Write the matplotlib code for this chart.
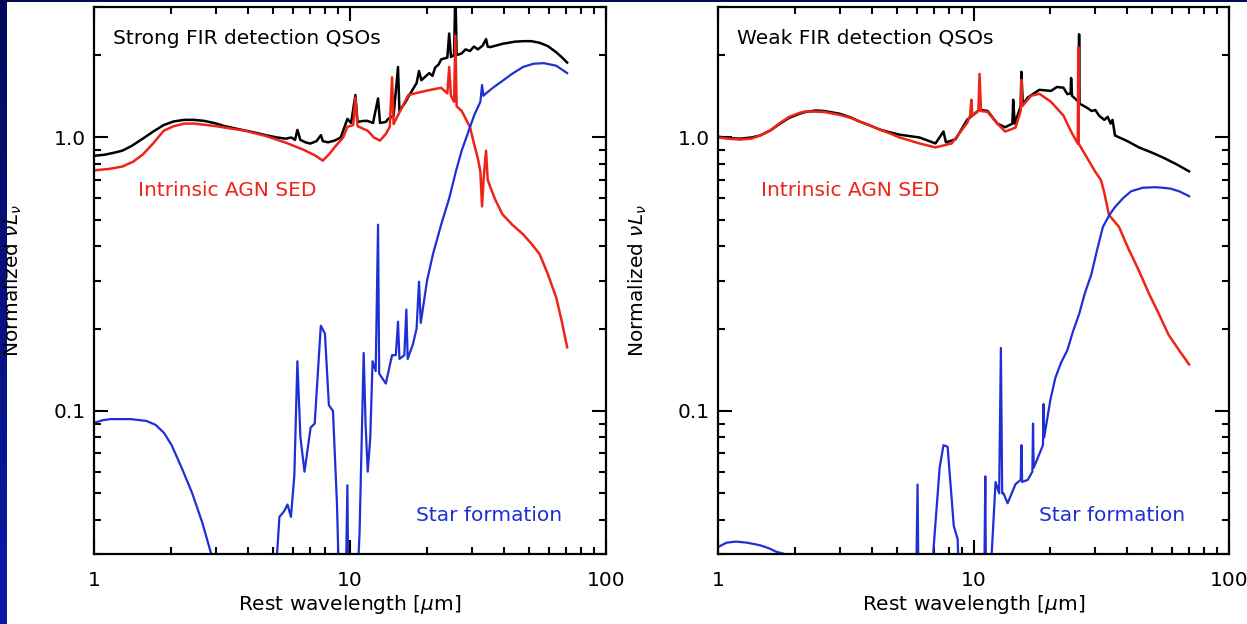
import numpy as np
import matplotlib
matplotlib.use("Agg")
import matplotlib.pyplot as plt
from matplotlib.ticker import FixedLocator, NullFormatter, FixedFormatter

# ---- left panel: strong FIR detection QSOs ----
strong_total_wl = [1.0, 1.1, 1.2, 1.29, 1.4, 1.55, 1.7, 1.87, 2.05, 2.25, 2.45, 2.70, 3.0, 3.24, 3.55,
                   3.90, 4.3, 4.68, 5.2, 5.6, 5.9, 6.1, 6.23, 6.4, 6.7, 7.0, 7.4, 7.7, 7.83, 8.2, 8.7,
                   9.2, 9.77, 10.1, 10.5, 10.7, 11.3, 11.7, 12.3, 12.87, 13.1, 13.8, 14.1, 14.8, 15.4,
                   15.6, 16.5, 16.9, 17.6, 18.2, 18.6, 19.0, 20.4, 21.0, 21.5, 22.2, 22.7, 24.0, 24.4,
                   24.8, 25.5, 25.8, 26.1, 27.3, 28.3, 29.4, 30.5, 31.6, 33.0, 34.0, 34.5, 35.3, 39.4,
                   44.0, 47.4, 51.1, 55.0, 59.2, 63.9, 67.0, 70.5]
strong_total = [0.857, 0.865, 0.88, 0.895, 0.93, 0.99, 1.05, 1.11, 1.145, 1.16, 1.16, 1.15, 1.125, 1.10,
                1.08, 1.06, 1.04, 1.02, 1.0, 0.99, 1.0, 0.98, 1.066, 0.98, 0.96, 0.95, 0.97, 1.02, 0.97,
                0.96, 0.974, 1.0, 1.17, 1.13, 1.43, 1.14, 1.15, 1.15, 1.13, 1.39, 1.13, 1.14, 1.17, 1.2,
                1.81, 1.25, 1.35, 1.41, 1.5, 1.58, 1.75, 1.62, 1.72, 1.68, 1.8, 1.85, 1.93, 1.96, 2.40,
                1.97, 2.0, 3.5, 2.0, 2.03, 2.1, 2.07, 2.15, 2.1, 2.17, 2.29, 2.15, 2.14, 2.2,
                2.24, 2.25, 2.25, 2.22, 2.16, 2.05, 1.97, 1.88]

strong_agn_wl = [1.0, 1.15, 1.29, 1.42, 1.55, 1.7, 1.87, 2.05, 2.25, 2.45, 2.70, 3.0, 3.24, 3.90, 4.68,
                 5.62, 6.6, 7.3, 7.83, 8.3, 8.75, 9.4, 9.77, 10.3, 10.5, 10.7, 11.73, 12.4, 13.1, 13.8,
                 14.3, 14.6, 14.8, 15.7, 16.9, 18.5, 20.4, 22.7, 24.0, 24.4, 24.8, 25.5, 25.8, 26.1,
                 27.3, 29.4, 30.5, 31.6, 32.3, 32.8, 33.3, 34.0, 34.5, 35.3, 37.0, 39.4, 43.0, 47.4,
                 51.0, 55.0, 59.0, 63.9, 67.0, 70.5]
strong_agn = [0.758, 0.768, 0.783, 0.815, 0.866, 0.95, 1.058, 1.10, 1.124, 1.125, 1.113, 1.10, 1.087,
              1.058, 1.013, 0.957, 0.901, 0.86, 0.823, 0.87, 0.926, 1.0, 1.094, 1.11, 1.40, 1.1, 1.058,
              1.0, 0.974, 1.03, 1.094, 1.66, 1.12, 1.25, 1.43, 1.46, 1.49, 1.52, 1.45, 1.81, 1.42,
              1.35, 2.36, 1.3, 1.25, 1.094, 0.95, 0.837, 0.75, 0.56, 0.72, 0.895, 0.7, 0.66, 0.59,
              0.524, 0.48, 0.443, 0.41, 0.375, 0.32, 0.26, 0.215, 0.171]

strong_sf_wl = [1.0, 1.08, 1.16, 1.39, 1.6, 1.74, 1.88, 2.01, 2.2, 2.42, 2.65, 2.87, 2.95, 5.1, 5.19,
                5.3, 5.53, 5.7, 5.88, 6.06, 6.23, 6.40, 6.64, 7.02, 7.28, 7.69, 7.98, 8.27, 8.58, 8.9,
                9.1, 9.6, 9.77, 9.85, 10.6, 10.9, 11.31, 11.5, 11.73, 12.0, 12.25, 12.6, 12.87, 13.0,
                13.8, 14.6, 15.1, 15.4, 15.6, 16.3, 16.6, 16.8, 17.6, 18.2, 18.6, 18.9, 20.0, 21.1,
                22.7, 24.4, 26.0, 27.3, 29.0, 30.6, 32.3, 32.8, 33.2, 34.0, 36.5, 39.4, 43.0, 47.4,
                52.0, 57.1, 63.9, 70.5]
strong_sf = [0.0905, 0.0925, 0.0934, 0.0934, 0.092, 0.089, 0.083, 0.075, 0.062, 0.050, 0.039, 0.030,
             0.02, 0.02, 0.03, 0.041, 0.043, 0.0455, 0.041, 0.058, 0.152, 0.0805, 0.06, 0.087, 0.09,
             0.205, 0.192, 0.105, 0.10, 0.045, 0.02, 0.02, 0.0535, 0.02, 0.02, 0.036, 0.163, 0.09,
             0.06, 0.08, 0.152, 0.14, 0.48, 0.137, 0.126, 0.16, 0.16, 0.212, 0.155, 0.16, 0.235,
             0.155, 0.175, 0.2, 0.297, 0.21, 0.30, 0.375, 0.48, 0.599, 0.76, 0.895, 1.05, 1.21, 1.35,
             1.555, 1.42, 1.45, 1.53, 1.61, 1.71, 1.81, 1.86, 1.87, 1.83, 1.72]

# ---- right panel: weak FIR detection QSOs ----
weak_total_wl = [1.0, 1.1, 1.22, 1.35, 1.46, 1.6, 1.75, 1.9, 2.09, 2.2, 2.41, 2.6, 2.99, 3.3, 3.59,
                 3.9, 4.30, 4.7, 5.14, 6.15, 7.10, 7.63, 7.8, 8.51, 9.45, 10.56, 11.36, 12.4, 13.3,
                 14.2, 14.3, 14.5, 15.3, 15.4, 15.6, 16.3, 18.1, 20.1, 21.2, 22.5, 23.3, 24.0, 24.1,
                 24.3, 25.8, 25.9, 26.0, 27.8, 29.0, 30.0, 31.0, 32.5, 33.5, 34.4, 35.0, 35.8, 40.0,
                 44.4, 50.0, 55.0, 62.0, 69.8]
weak_total = [1.007, 0.995, 0.99, 1.0, 1.017, 1.06, 1.124, 1.18, 1.222, 1.24, 1.255, 1.25, 1.222,
              1.185, 1.143, 1.11, 1.069, 1.045, 1.024, 1.0, 0.951, 1.052, 0.96, 0.985, 1.162, 1.264,
              1.25, 1.124, 1.09, 1.124, 1.374, 1.124, 1.3, 1.738, 1.32, 1.4, 1.494, 1.48, 1.53, 1.52,
              1.44, 1.45, 1.65, 1.42, 1.35, 2.385, 1.33, 1.285, 1.25, 1.26, 1.202, 1.16, 1.19, 1.124,
              1.16, 1.017, 0.97, 0.92, 0.88, 0.846, 0.80, 0.752]

weak_agn_wl = [1.0, 1.1, 1.22, 1.35, 1.46, 1.6, 1.75, 1.9, 2.09, 2.2, 2.41, 2.6, 2.99, 3.3, 3.59, 3.9,
               4.30, 4.7, 5.14, 6.15, 7.10, 8.21, 9.45, 9.7, 9.81, 9.9, 10.45, 10.56, 10.7, 11.36,
               12.4, 13.3, 14.6, 15.3, 15.4, 15.5, 16.8, 18.1, 20.1, 22.5, 24.1, 25.6, 25.7, 25.8,
               26.9, 29.9, 31.5, 32.1, 32.6, 33.9, 37.1, 40.5, 44.4, 48.5, 53.2, 58.0, 63.7, 69.8]
weak_agn = [1.0, 0.99, 0.983, 0.99, 1.017, 1.06, 1.131, 1.19, 1.231, 1.245, 1.243, 1.24, 1.21, 1.18,
            1.143, 1.11, 1.069, 1.035, 1.0, 0.951, 0.92, 0.951, 1.131, 1.2, 1.374, 1.2, 1.25, 1.708,
            1.25, 1.24, 1.124, 1.051, 1.087, 1.25, 1.625, 1.3, 1.421, 1.445, 1.351, 1.202, 1.051,
            0.95, 2.137, 0.95, 0.889, 0.752, 0.70, 0.658, 0.62, 0.521, 0.471, 0.39, 0.326, 0.27,
            0.226, 0.19, 0.167, 0.148]

weak_sf_wl = [1.0, 1.08, 1.176, 1.3, 1.459, 1.58, 1.685, 1.823, 1.85, 5.95, 6.04, 6.1, 6.9, 6.97,
              7.37, 7.63, 7.92, 8.37, 8.67, 8.83, 11.0, 11.12, 11.2, 11.78, 12.2, 12.6, 12.8, 12.95,
              13.1, 13.6, 14.6, 15.3, 15.4, 15.5, 16.3, 17.0, 17.1, 17.2, 18.7, 18.8, 18.9, 20.0,
              20.9, 22.0, 23.3, 24.5, 25.9, 27.3, 28.9, 30.5, 32.1, 34.0, 35.8, 38.5, 41.4, 46.0,
              51.4, 55.0, 59.2, 64.0, 69.8]
weak_sf = [0.0318, 0.033, 0.0333, 0.033, 0.0323, 0.0315, 0.0306, 0.030, 0.02, 0.02, 0.0538, 0.02,
           0.02, 0.031, 0.062, 0.075, 0.074, 0.038, 0.034, 0.02, 0.02, 0.0577, 0.02, 0.03, 0.055,
           0.05, 0.17, 0.05, 0.05, 0.046, 0.054, 0.056, 0.075, 0.055, 0.056, 0.06, 0.090, 0.062,
           0.075, 0.106, 0.08, 0.11, 0.132, 0.15, 0.167, 0.195, 0.226, 0.27, 0.315, 0.39, 0.471,
           0.52, 0.557, 0.60, 0.636, 0.655, 0.658, 0.655, 0.65, 0.635, 0.61]

RED = "#ee2418"
BLUE = "#1f2fd6"
FS = 14.5

plt.rcParams.update({
    "font.family": "DejaVu Sans",
    "font.size": FS,
    "axes.linewidth": 1.6,
})

fig = plt.figure(figsize=(12.47, 6.24), dpi=100)
fig.patch.set_facecolor("white")

# navy frame pieces of the slide
strip = fig.add_axes([0, 0, 7 / 1247, 1])
grad = np.linspace(0, 1, 256).reshape(-1, 1)
strip.imshow(grad, aspect="auto", cmap=matplotlib.colors.LinearSegmentedColormap.from_list(
    "slide", ["#0a1aa8", "#020a5a"]), origin="lower", extent=[0, 1, 0, 1])
strip.axis("off")
top = fig.add_axes([0, 1 - 2 / 624, 1, 2 / 624])
top.set_facecolor("#020a5a")
top.set_xticks([])
top.set_yticks([])
for s in top.spines.values():
    s.set_visible(False)

ax1 = fig.add_axes([94 / 1247, 70 / 624, 512 / 1247, 547 / 624])
ax2 = fig.add_axes([718 / 1247, 70 / 624, 511 / 1247, 547 / 624])

panels = [
    (ax1, "Strong FIR detection QSOs", strong_total_wl, strong_total, strong_agn_wl, strong_agn,
     strong_sf_wl, strong_sf),
    (ax2, "Weak FIR detection QSOs", weak_total_wl, weak_total, weak_agn_wl, weak_agn,
     weak_sf_wl, weak_sf),
]

for ax, title, twl, tot, awl, agn, swl, sf in panels:
    ax.plot(twl, tot, color="black", lw=1.8)
    ax.plot(awl, agn, color=RED, lw=1.8)
    ax.plot(swl, sf, color=BLUE, lw=1.6)

    ax.set_xscale("log")
    ax.set_yscale("log")
    ax.set_xlim(1, 100)
    ax.set_ylim(0.03, 3)

    ax.xaxis.set_major_locator(FixedLocator([1, 10, 100]))
    ax.xaxis.set_major_formatter(FixedFormatter(["1", "10", "100"]))
    ax.xaxis.set_minor_locator(FixedLocator([2, 3, 4, 5, 6, 7, 8, 9, 20, 30, 40, 50, 60, 70, 80, 90]))
    ax.xaxis.set_minor_formatter(NullFormatter())
    ax.yaxis.set_major_locator(FixedLocator([0.1, 1.0]))
    ax.yaxis.set_major_formatter(FixedFormatter(["0.1", "1.0"]))
    ax.yaxis.set_minor_locator(FixedLocator([0.03, 0.04, 0.05, 0.06, 0.07, 0.08, 0.09,
                                             0.2, 0.3, 0.4, 0.5, 0.6, 0.7, 0.8, 0.9, 2, 3]))
    ax.yaxis.set_minor_formatter(NullFormatter())
    ax.tick_params(which="both", direction="in", top=True, right=True, width=1.5, labelsize=FS)
    ax.tick_params(which="major", length=10)
    ax.tick_params(which="minor", length=5)
    ax.tick_params(axis="x", which="major", pad=12)
    ax.tick_params(axis="y", which="major", pad=6)

    ax.set_xlabel(r"Rest wavelength [$\mu$m]", fontsize=FS)
    ax.xaxis.set_label_coords(0.5, -0.072)
    ax.set_ylabel(r"Normalized $\nu L_\nu$", fontsize=FS)
    ax.yaxis.set_label_coords(-0.136, 0.5)

    ax.text(0.037, 0.943, title, transform=ax.transAxes, ha="left", va="center", fontsize=FS)
    ax.text(0.085, 0.665, "Intrinsic AGN SED", transform=ax.transAxes, ha="left", va="center",
            fontsize=FS, color=RED)
    ax.text(0.915, 0.071, "Star formation", transform=ax.transAxes, ha="right", va="center",
            fontsize=FS, color=BLUE)

fig.savefig("out.png", dpi=100, facecolor="white")
